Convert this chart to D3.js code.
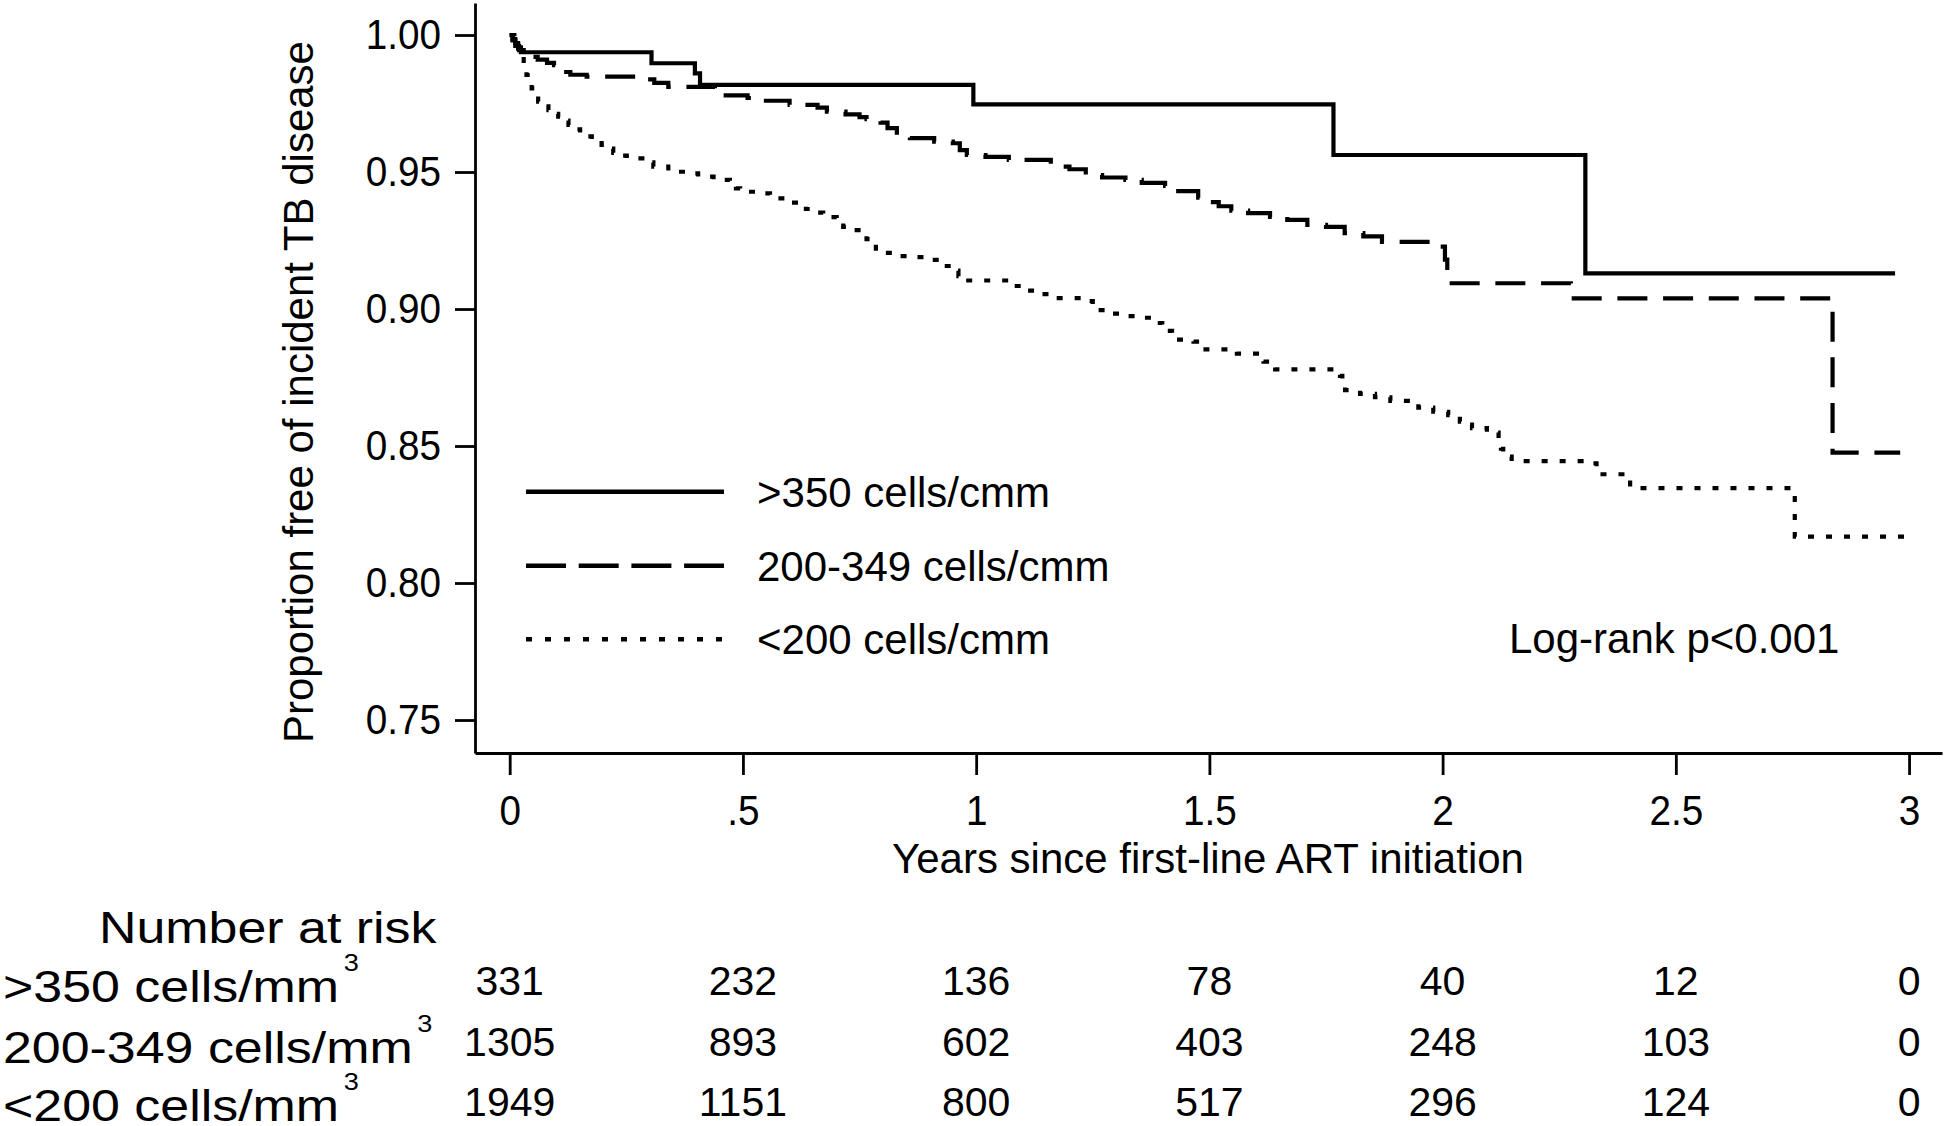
<!DOCTYPE html>
<html><head><meta charset="utf-8">
<script src="https://cdn.jsdelivr.net/npm/d3@7"></script>
<style>
html,body{margin:0;padding:0;background:#fff;}
svg{display:block;}
text{font-family:"Liberation Sans",Arial,Helvetica,sans-serif;fill:#000;}
</style></head><body>
<svg id="chart" width="1946" height="1126"></svg>
<script>
// ---------- data ----------
const legendLabels = [">350 cells/cmm", "200-349 cells/cmm", "<200 cells/cmm"];
const riskLabels = [">350 cells/mm", "200-349 cells/mm", "<200 cells/mm"];
const xTicks = [0, 0.5, 1, 1.5, 2, 2.5, 3];
const xTickLabels = ["0", ".5", "1", "1.5", "2", "2.5", "3"];
const yTicks = [0.75, 0.80, 0.85, 0.90, 0.95, 1.00];
const risk350 = [331, 232, 136, 78, 40, 12, 0];
const risk200 = [1305, 893, 602, 403, 248, 103, 0];
const riskLt200 = [1949, 1151, 800, 517, 296, 124, 0];
const pValueText = "Log-rank p<0.001";

// Kaplan-Meier steps: [time (years), survival from that time]
const km350 = [[0,1],[0.006,0.9985],[0.012,0.997],[0.018,0.9955],[0.024,0.9937],[0.304,0.9897],[0.397,0.986],[0.408,0.9818],[0.994,0.9747],[1.766,0.9562],[2.306,0.913],[2.97,0.913]];
const km200 = [[0,1],[0.006,0.998],[0.012,0.996],[0.02,0.9945],[0.03,0.9935],[0.045,0.992],[0.06,0.991],[0.08,0.9898],[0.095,0.989],[0.11,0.9865],[0.13,0.9855],[0.165,0.9848],[0.29,0.9838],[0.31,0.9825],[0.34,0.9811],[0.44,0.9795],[0.455,0.978],[0.51,0.977],[0.535,0.976],[0.6,0.9745],[0.66,0.9735],[0.68,0.972],[0.72,0.971],[0.75,0.970],[0.765,0.9693],[0.795,0.968],[0.81,0.966],[0.83,0.9635],[0.858,0.9624],[0.91,0.9611],[0.95,0.9605],[0.965,0.958],[0.98,0.9562],[1.02,0.9555],[1.07,0.9544],[1.16,0.9538],[1.18,0.952],[1.2,0.951],[1.235,0.9489],[1.27,0.948],[1.32,0.9471],[1.355,0.946],[1.405,0.9449],[1.425,0.943],[1.476,0.9406],[1.5,0.939],[1.52,0.9375],[1.547,0.9359],[1.583,0.935],[1.63,0.9336],[1.667,0.9325],[1.71,0.9307],[1.75,0.930],[1.79,0.9277],[1.83,0.9265],[1.87,0.9245],[1.995,0.9228],[2.005,0.918],[2.01,0.914],[2.013,0.9094],[2.275,0.9039],[2.836,0.8476],[2.981,0.8476]];
const kmLt200 = [[0,1],[0.01,0.997],[0.018,0.995],[0.022,0.9927],[0.03,0.989],[0.036,0.9854],[0.047,0.9805],[0.055,0.978],[0.061,0.9757],[0.072,0.974],[0.083,0.9726],[0.094,0.9712],[0.104,0.9702],[0.115,0.9688],[0.126,0.9672],[0.138,0.9656],[0.151,0.9641],[0.163,0.963],[0.176,0.9617],[0.197,0.9599],[0.21,0.9585],[0.222,0.957],[0.237,0.956],[0.251,0.955],[0.3,0.9535],[0.308,0.952],[0.34,0.9501],[0.376,0.9495],[0.404,0.9483],[0.437,0.9471],[0.472,0.9457],[0.485,0.944],[0.494,0.9428],[0.53,0.9422],[0.558,0.9404],[0.59,0.9388],[0.622,0.9375],[0.635,0.9365],[0.644,0.9352],[0.672,0.9335],[0.701,0.9319],[0.715,0.930],[0.726,0.9288],[0.755,0.927],[0.765,0.9255],[0.773,0.924],[0.785,0.922],[0.794,0.9205],[0.826,0.9193],[0.862,0.9189],[0.894,0.9179],[0.923,0.9157],[0.951,0.914],[0.962,0.912],[0.973,0.9104],[1.07,0.9084],[1.101,0.9067],[1.133,0.9054],[1.166,0.904],[1.237,0.9029],[1.25,0.901],[1.259,0.8996],[1.291,0.8983],[1.323,0.8974],[1.358,0.8968],[1.387,0.8949],[1.399,0.8935],[1.409,0.892],[1.42,0.8905],[1.43,0.8888],[1.466,0.8881],[1.487,0.8853],[1.559,0.8837],[1.616,0.8808],[1.63,0.879],[1.641,0.878],[1.78,0.8756],[1.785,0.873],[1.791,0.8704],[1.823,0.869],[1.855,0.8678],[1.888,0.8665],[1.948,0.864],[1.98,0.8625],[2.012,0.8613],[2.037,0.8589],[2.05,0.8578],[2.063,0.8565],[2.095,0.8549],[2.12,0.8528],[2.125,0.849],[2.13,0.8461],[2.148,0.8445],[2.306,0.8437],[2.33,0.8397],[2.402,0.8346],[2.755,0.8169],[2.998,0.8169]];

// ---------- chart ----------
const svg = d3.select("#chart");
const x = d3.scaleLinear().domain([-0.0744, 3.0706]).range([475, 1942]);
const y = d3.scaleLinear().domain([0.73796, 1.01168]).range([753, 3]);

const series = [
  {data: km350, dash: null},
  {data: km200, dash: "30,15.7"},
  {data: kmLt200, dash: "6,12"}
];
const legendDash = [null, "40,12.7", "6,13"];

// axes
const tickScale = 0.9;
const yAxis = d3.axisLeft(y).tickValues(yTicks).tickFormat(d3.format(".2f"))
  .tickSize(20).tickSizeOuter(0).tickPadding(14);
const gy = svg.append("g").attr("transform", "translate(475,0)").call(yAxis);
const xAxis = d3.axisBottom(x).tickValues(xTicks).tickFormat((d, i) => xTickLabels[i])
  .tickSize(22).tickSizeOuter(0).tickPadding(19);
const gx = svg.append("g").attr("transform", "translate(0,753)").call(xAxis);
[gy, gx].forEach(g => {
  g.selectAll("path,line").attr("stroke", "#000").attr("stroke-width", 2.8);
  g.selectAll("text").style("font-size", "43px").attr("fill", "#000")
   .style("font-family", '"Liberation Sans",Arial,sans-serif')
   .attr("transform", `scale(${tickScale},1)`);
});
gy.selectAll("text").attr("x", -34 / tickScale);

// axis titles
svg.append("text").attr("transform", "translate(313,392) rotate(-90)")
  .attr("text-anchor", "middle").style("font-size", "42px")
  .text("Proportion free of incident TB disease");
svg.append("text").attr("x", 1208).attr("y", 873).attr("text-anchor", "middle")
  .style("font-size", "42px").text("Years since first-line ART initiation");

// curves
const line = d3.line().x(d => x(d[0])).y(d => y(d[1])).curve(d3.curveStepAfter);
series.forEach(s => {
  svg.append("path").datum(s.data).attr("d", line)
    .attr("fill", "none").attr("stroke", "#000").attr("stroke-width", 4.2)
    .attr("stroke-dasharray", s.dash);
});

// legend
const legY = [491.7, 565.7, 639.3];
legendLabels.forEach((lab, i) => {
  svg.append("line").attr("x1", 526).attr("x2", 724).attr("y1", legY[i]).attr("y2", legY[i])
    .attr("stroke", "#000").attr("stroke-width", 4.5).attr("stroke-dasharray", legendDash[i]);
  svg.append("text").attr("x", 757).attr("y", legY[i] + 15).style("font-size", "42px").text(lab);
});
svg.append("text").attr("x", 1509).attr("y", 653).style("font-size", "42px").text(pValueText);

// number at risk table
const sx = 1.18;
const tg = svg.append("g").attr("transform", `scale(${sx},1)`);
tg.append("text").attr("x", 99 / sx).attr("y", 943).style("font-size", "44px").text("Number at risk");
const labBase = [1001.7, 1063, 1121];
const numBase = [995, 1055.5, 1116];
const riskRows = [risk350, risk200, riskLt200];
riskLabels.forEach((lab, i) => {
  const t = tg.append("text").attr("x", 3 / sx).attr("y", labBase[i]).style("font-size", "44px");
  t.append("tspan").text(lab);
  t.append("tspan").attr("dx", 4).attr("dy", -31).style("font-size", "23px").text("3");
});
riskRows.forEach((row, i) => {
  svg.append("g").selectAll("text").data(row).join("text")
    .attr("x", (d, j) => x(xTicks[j])).attr("y", numBase[i])
    .attr("text-anchor", "middle").style("font-size", "41px").text(d => d);
});
</script>
</body></html>
